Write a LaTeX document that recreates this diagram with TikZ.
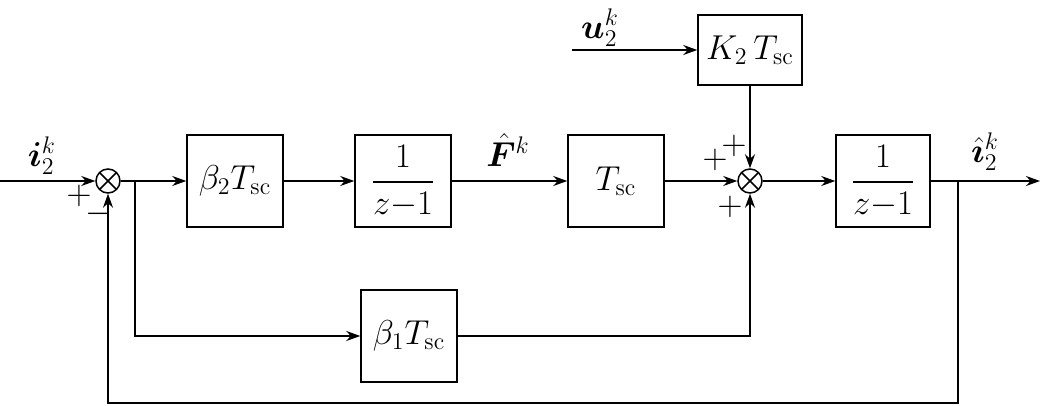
\documentclass[tikz,border=0pt]{standalone}
\usepackage{amsmath}
\usepackage{bm}
\usepackage{tikz}
\usetikzlibrary{arrows.meta,positioning,calc}
\tikzset{
  blk/.style={draw, line width=0.75pt, minimum width=48pt, minimum height=46pt, inner sep=1pt, font=\fontsize{18}{21}\selectfont},
  sumc/.style={draw, circle, line width=0.75pt, minimum size=12pt, inner sep=0pt,
    path picture={\draw[line width=0.75pt] (path picture bounding box.north west) -- (path picture bounding box.south east)
      (path picture bounding box.north east) -- (path picture bounding box.south west);}},
  arr/.style={-{Stealth[length=7pt,width=5pt]}, line width=0.75pt},
  ln/.style={line width=0.75pt},
  sig/.style={font=\fontsize{18}{21}\selectfont, inner sep=1pt},
  sgn/.style={font=\fontsize{17}{19}\selectfont, inner sep=0pt},
}

\begin{document}
\begin{tikzpicture}[x=0.5pt, y=-0.5pt]
  \useasboundingbox (0,0) rectangle (1045,406);
  % blocks
  \node[sumc] (s1) at (108,181) {};
  \node[blk] (b2) at (235,181) {$\beta_2 T_{\mathrm{sc}}$};
  \node[blk] (d1) at (403,181) {$\dfrac{1}{z{-}1}$};
  \node[blk] (ts) at (616,181) {$T_{\mathrm{sc}}$};
  \node[sumc] (s2) at (750,181) {};
  \node[blk, minimum width=52pt, minimum height=35pt] (k2) at (750,50) {$K_2\, T_{\mathrm{sc}}$};
  \node[blk, minimum width=47pt] (d2) at (883,181) {$\dfrac{1}{z{-}1}$};
  \node[blk] (b1) at (409,336) {$\beta_1 T_{\mathrm{sc}}$};
  % ends and branch points
  \coordinate (in) at (0,181);
  \coordinate (uin) at (572,50);
  \coordinate (out) at (1040,181);
  \coordinate (br1) at (135,181);
  \coordinate (br2) at (958,181);
  \coordinate (fbot) at (958,403);
  % signals
  \node[sig] (li) at (42,156) {$\bm{i}_2^k$};
  \node[sig] (lu) at (600,28) {$\bm{u}_2^k$};
  \node[sig] (lf) at (508,150) {$\hat{\bm{F}}^k$};
  \node[sig] (lo) at (985,152) {$\hat{\bm{\imath}}_2^k$};
  % signs
  \node[sgn] (p1) at (79,196) {$+$};
  \node[sgn] (m1) at (99,214) {$-$};
  \node[sgn] (p2) at (715,160) {$+$};
  \node[sgn] (p3) at (734,146) {$+$};
  \node[sgn] (p4) at (730,207) {$+$};
  % connectors
  \draw[arr] (in) -- (s1.west);
  \draw[ln] (s1.east) -- (br1);
  \draw[arr] (br1) -- (b2.west);
  \draw[arr] (b2) -- (d1);
  \draw[arr] (d1) -- (ts);
  \draw[arr] (ts) -- (s2.west);
  \draw[arr] (uin) -- (k2.west);
  \draw[arr] (k2.south) -- (s2.north);
  \draw[arr] (s2.east) -- (d2.west);
  \draw[arr] (d2.east) -- (out);
  \draw[arr] (br1) |- (b1.west);
  \draw[arr] (b1.east) -| (s2.south);
  \draw[arr] (br2) -- (fbot) -| (s1.south);
\end{tikzpicture}
\end{document}
